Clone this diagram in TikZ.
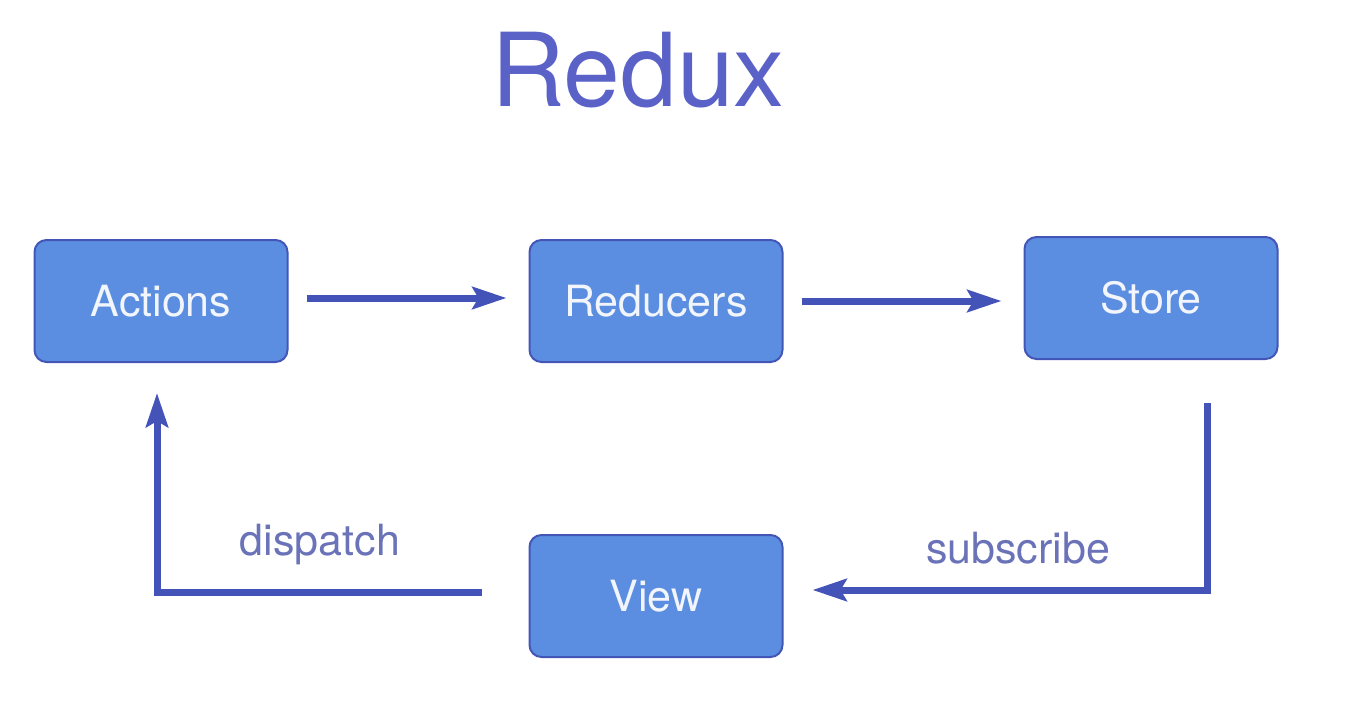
\documentclass[tikz,border=0pt]{standalone}
\usepackage{fontspec}
\setmainfont{TeX Gyre Heros}
\usepackage{tikz}
\usetikzlibrary{arrows.meta}
\definecolor{boxfill}{RGB}{91,142,224}
\definecolor{boxline}{RGB}{67,86,184}
\definecolor{flowline}{RGB}{68,83,184}
\definecolor{labeltext}{RGB}{106,114,184}
\definecolor{titletext}{RGB}{90,98,200}
\tikzstyle{flow} = [line width=3.5pt,flowline,-{Stealth[length=17pt,width=11pt,inset=3pt]}]

\begin{document}
\begin{tikzpicture}[
    x=0.5pt,y=-0.5pt,
    block/.style={draw=boxline,line width=1pt,fill=boxfill,rounded corners=6pt,
      minimum width=126.5pt,minimum height=61pt,text=white!92!boxfill,
      font=\fontsize{21.5}{26}\selectfont},
    flowlabel/.style={text=labeltext,font=\fontsize{21.5}{26}\selectfont},
  ]
  \useasboundingbox (0,0) rectangle (1366,722);
  \node[text=titletext,font=\fontsize{51}{60}\selectfont] (title) at (638,70) {Redux};
  \node[block] (actions) at (161,301) {Actions};
  \node[block] (reducers) at (656,301) {Reducers};
  \node[block] (store) at (1151,298) {Store};
  \node[block] (view) at (656,596) {View};
  \node[flowlabel] (dispatch) at (320,545) {dispatch};
  \node[flowlabel] (subscribe) at (1018,548) {subscribe};
  \draw[flow,shorten <=9pt,shorten >=11pt] ([yshift=1.5pt]actions.east) -- ([yshift=1.5pt]reducers.west);
  \draw[flow,shorten <=9pt,shorten >=11pt] (reducers.east) -- (reducers.east -| store.west);
  \draw[flow] ([xshift=28pt,yshift=-21.5pt]store.south) |- ([xshift=14.5pt,yshift=3pt]view.east);
  \draw[flow] ([xshift=-23.5pt,yshift=2pt]view.west) -| ([xshift=-2pt,yshift=-15pt]actions.south);
\end{tikzpicture}
\end{document}
